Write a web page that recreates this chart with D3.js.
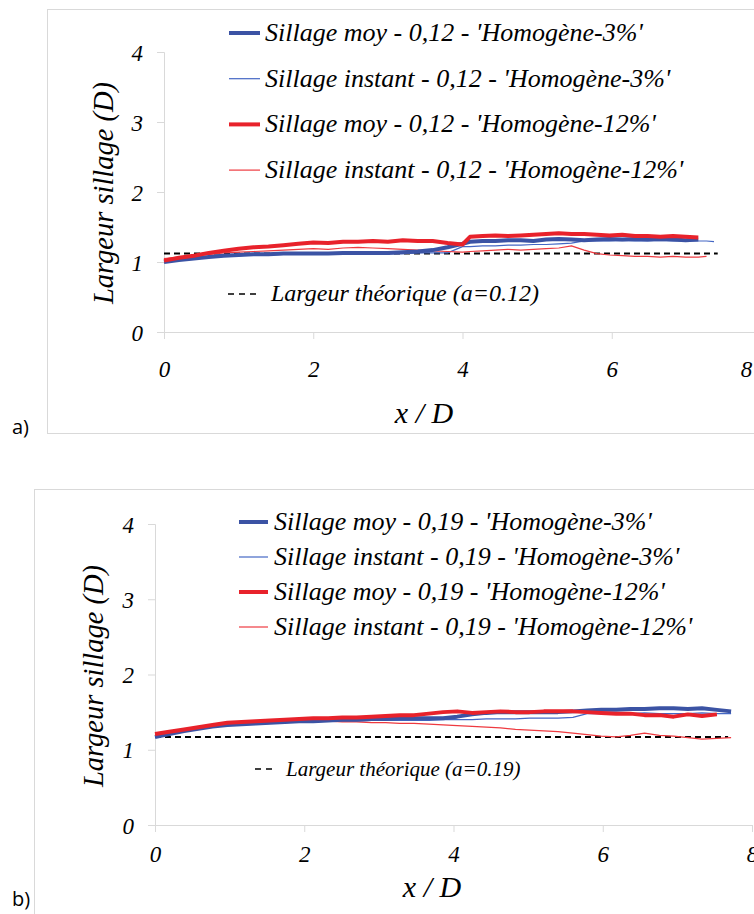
<!DOCTYPE html>
<html><head><meta charset="utf-8">
<script src="https://cdn.jsdelivr.net/npm/d3@7"></script>
</head>
<body style="margin:0">
<svg id="c" width="754" height="914"></svg>
<script>
// ---------- DATA ----------
const yTicks = [0, 1, 2, 3, 4];
const xTicks = [0, 2, 4, 6, 8];
const xTitle = "x / D";
const yTitle = "Largeur sillage (D)";

// panel a) a = 0.12 — sampling positions (x/D)
const xSamplesA = [0,0.2,0.4,0.6,0.8,1.0,1.2,1.4,1.6,1.8,2.0,2.2,2.4,2.6,2.8,3.0,3.2,3.4,3.6,3.8,4.0,
  4.1,4.27,4.44,4.61,4.78,4.95,5.12,5.29,5.46,5.63,5.8,5.97,6.14,6.31,6.48,6.65,6.82,6.99,7.16,7.27,7.37];
const labelsA = ["Sillage moy - 0,12 - 'Homogène-3%'", "Sillage instant - 0,12 - 'Homogène-3%'",
  "Sillage moy - 0,12 - 'Homogène-12%'", "Sillage instant - 0,12 - 'Homogène-12%'"];
const theoLabelA = "Largeur théorique (a=0.12)";
const moy3A = [1.00,1.03,1.05,1.07,1.09,1.10,1.11,1.11,1.12,1.12,1.12,1.12,1.13,1.13,1.13,1.13,1.14,1.15,1.17,1.21,
  1.26,1.29,1.30,1.30,1.31,1.31,1.30,1.32,1.33,1.32,1.31,1.32,1.33,1.32,1.33,1.32,1.33,1.32,1.31,1.32];
const inst3A = [1.00,1.03,1.05,1.07,1.08,1.09,1.10,1.10,1.11,1.11,1.11,1.11,1.12,1.12,1.12,1.12,1.12,1.13,1.13,1.13,
  1.22,1.22,1.23,1.23,1.24,1.24,1.25,1.25,1.26,1.27,1.30,1.30,1.30,1.31,1.30,1.30,1.31,1.30,1.30,1.30,1.30,1.29];
const moy12A = [1.02,1.06,1.09,1.13,1.16,1.19,1.21,1.22,1.24,1.26,1.28,1.27,1.29,1.29,1.30,1.29,1.31,1.30,1.30,1.27,
  1.25,1.36,1.37,1.38,1.37,1.38,1.39,1.40,1.41,1.40,1.40,1.39,1.38,1.39,1.37,1.37,1.36,1.37,1.36,1.35];
const inst12A = [1.05,1.07,1.09,1.11,1.13,1.14,1.15,1.16,1.17,1.18,1.19,1.18,1.20,1.21,1.20,1.19,1.18,1.17,1.16,1.15,
  1.14,1.15,1.16,1.17,1.18,1.17,1.18,1.19,1.20,1.23,1.17,1.12,1.10,1.09,1.08,1.08,1.07,1.08,1.07,1.07,1.08];
const theoXA = [0, 7.42];
const theoA = [1.12, 1.12];

// panel b) a = 0.19 — sampling positions (x/D)
const xSamplesB = [0,0.19,0.39,0.58,0.77,0.97,1.16,1.35,1.54,1.74,1.93,2.12,2.32,2.51,2.70,2.90,3.09,3.28,3.47,3.67,
  3.86,4.05,4.25,4.44,4.63,4.83,5.02,5.21,5.40,5.60,5.79,5.98,6.18,6.37,6.56,6.76,6.95,7.14,7.33,7.53,7.72];
const labelsB = ["Sillage moy - 0,19 - 'Homogène-3%'", "Sillage instant - 0,19 - 'Homogène-3%'",
  "Sillage moy - 0,19 - 'Homogène-12%'", "Sillage instant - 0,19 - 'Homogène-12%'"];
const theoLabelB = "Largeur théorique (a=0.19)";
const moy3B = [1.17,1.21,1.25,1.28,1.31,1.33,1.34,1.35,1.36,1.37,1.38,1.38,1.39,1.40,1.40,1.41,1.41,1.42,1.42,1.42,
  1.42,1.44,1.47,1.49,1.50,1.50,1.50,1.50,1.50,1.51,1.52,1.53,1.53,1.54,1.54,1.55,1.55,1.54,1.55,1.53,1.51];
const inst3B = [1.17,1.21,1.25,1.28,1.30,1.32,1.33,1.34,1.35,1.36,1.37,1.37,1.38,1.38,1.38,1.39,1.39,1.39,1.39,1.39,
  1.40,1.40,1.40,1.41,1.41,1.41,1.42,1.42,1.42,1.43,1.48,1.48,1.48,1.48,1.49,1.48,1.48,1.48,1.49,1.48,1.48];
const moy12B = [1.21,1.24,1.27,1.30,1.33,1.36,1.37,1.38,1.39,1.40,1.41,1.42,1.42,1.43,1.43,1.44,1.45,1.46,1.46,1.48,
  1.50,1.51,1.49,1.50,1.51,1.50,1.50,1.51,1.51,1.51,1.50,1.49,1.48,1.48,1.46,1.46,1.44,1.47,1.45,1.47];
const inst12B = [1.20,1.24,1.27,1.30,1.32,1.33,1.35,1.36,1.37,1.38,1.38,1.38,1.38,1.37,1.37,1.36,1.36,1.35,1.35,1.34,
  1.33,1.32,1.31,1.30,1.29,1.27,1.26,1.25,1.24,1.22,1.20,1.18,1.17,1.19,1.22,1.19,1.18,1.16,1.14,1.15,1.16];
const theoXB = [0, 7.68];
const theoB = [1.17, 1.17];

// ---------- STYLE ----------
const fams = ["Liberation Serif", "Open Sans"];
const BLUE = "#3b53a4", BLUE_T = "#4467c4", RED = "#e8222b", RED_T = "#ee3a40";
const seriesStyle = [
  {color: BLUE, w: 4},
  {color: BLUE_T, w: 1.2},
  {color: RED, w: 4},
  {color: RED_T, w: 1.2}
];

const svg = d3.select("#c")
  .style("font-family", "'" + fams[0] + "'")
  .style("font-style", "italic");

function serifText(sel, size) {
  return sel.style("font-family", "'" + fams[0] + "'")
    .style("font-style", "italic")
    .style("font-size", size + "px")
    .style("fill", "#000");
}

function panel(cfg) {
  const g = svg.append("g");
  g.append("rect").attr("x", cfg.frame[0] + 0.5).attr("y", cfg.frame[1] + 0.5)
    .attr("width", cfg.frame[2]).attr("height", cfg.frame[3])
    .attr("fill", "none").attr("stroke", "#d9d9d9").attr("stroke-width", 1);
  g.append("text").text(cfg.tag).attr("x", 12).attr("y", cfg.tagY)
    .style("font-family", "'" + fams[1] + "'").style("font-style", "normal").style("font-size", "20px");

  const x = d3.scaleLinear().domain([0, 8]).range([cfg.x0, cfg.x8]);
  const y = d3.scaleLinear().domain([0, 4]).range([cfg.y0, cfg.y4]);

  const yAxis = g.append("g").attr("transform", `translate(${cfg.x0},0)`)
    .call(d3.axisLeft(y).tickValues(yTicks).tickSize(7).tickPadding(14).tickFormat(d3.format("d")));
  const xAxis = g.append("g").attr("transform", `translate(0,${cfg.y0})`)
    .call(d3.axisBottom(x).tickValues(xTicks).tickSize(7).tickPadding(cfg.xPad).tickFormat(d3.format("d")));
  [yAxis, xAxis].forEach(a => {
    a.attr("font-size", null).attr("font-family", null);
    a.selectAll("path, line").attr("stroke", "#d9d9d9");
    serifText(a.selectAll("text"), 23);
  });
  yAxis.selectAll("text").attr("dy", "0.35em");
  xAxis.selectAll(".tick text").filter(d => d === 8).attr("dx", cfg.lastShift);

  serifText(g.append("text").text(yTitle).attr("text-anchor", "middle")
    .attr("transform", `translate(${cfg.yTitleX},${cfg.yTitleY}) rotate(-90)`), cfg.yTitleFont);
  serifText(g.append("text").text(xTitle).attr("text-anchor", "middle")
    .attr("x", cfg.xTitleX).attr("y", cfg.xTitleY), 30);

  const lineOf = (xs) => d3.line().x((d, i) => x(xs[i])).y(d => y(d));

  g.append("path").datum(cfg.theo).attr("d", lineOf(cfg.theoX))
    .attr("fill", "none").attr("stroke", "#000").attr("stroke-width", 2)
    .attr("stroke-dasharray", "6,4");

  const order = [1, 3, 0, 2];
  order.forEach(k => {
    g.append("path").datum(cfg.series[k]).attr("d", lineOf(cfg.xs))
      .attr("fill", "none").attr("stroke", seriesStyle[k].color)
      .attr("stroke-width", seriesStyle[k].w).attr("stroke-linejoin", "round");
  });

  cfg.labels.forEach((lab, k) => {
    const yy = cfg.legY + k * cfg.legDy;
    g.append("line").attr("x1", cfg.legX).attr("x2", cfg.legX + cfg.legW).attr("y1", yy).attr("y2", yy)
      .attr("stroke", seriesStyle[k].color).attr("stroke-width", seriesStyle[k].w);
    serifText(g.append("text").text(lab).attr("x", cfg.legTextX).attr("y", yy + 8), cfg.legFont);
  });
  g.append("line").attr("x1", cfg.theoLegX).attr("x2", cfg.theoLegX + cfg.theoLegW)
    .attr("y1", cfg.theoLegY).attr("y2", cfg.theoLegY)
    .attr("stroke", "#000").attr("stroke-width", 1.5).attr("stroke-dasharray", "6,5");
  serifText(g.append("text").text(cfg.theoLabel).attr("x", cfg.theoTextX).attr("y", cfg.theoLegY + 7),
    cfg.theoFont);
}

panel({
  tag: "a)", tagY: 434,
  frame: [47, 9, 760, 424],
  x0: 164, x8: 761, y0: 332, y4: 52, xPad: 22, lastShift: -15,
  yTitleX: 113, yTitleY: 193, yTitleFont: 28.5, xTitleX: 424, xTitleY: 423,
  xs: xSamplesA, series: [moy3A, inst3A, moy12A, inst12A],
  theo: theoA, theoX: theoXA, labels: labelsA, theoLabel: theoLabelA,
  legX: 229, legW: 31, legTextX: 265, legY: 33, legDy: 45.7, legFont: 26,
  theoLegX: 228, theoLegW: 30, theoLegY: 294, theoTextX: 271, theoFont: 24
});

panel({
  tag: "b)", tagY: 906,
  frame: [34, 489, 760, 440],
  x0: 155, x8: 752, y0: 825, y4: 524, xPad: 14, lastShift: 0,
  yTitleX: 103, yTitleY: 676, yTitleFont: 28.5, xTitleX: 432, xTitleY: 897,
  xs: xSamplesB, series: [moy3B, inst3B, moy12B, inst12B],
  theo: theoB, theoX: theoXB, labels: labelsB, theoLabel: theoLabelB,
  legX: 239, legW: 29, legTextX: 274, legY: 522, legDy: 35, legFont: 26,
  theoLegX: 255, theoLegW: 18, theoLegY: 769, theoTextX: 286, theoFont: 21
});
</script>
</body></html>
